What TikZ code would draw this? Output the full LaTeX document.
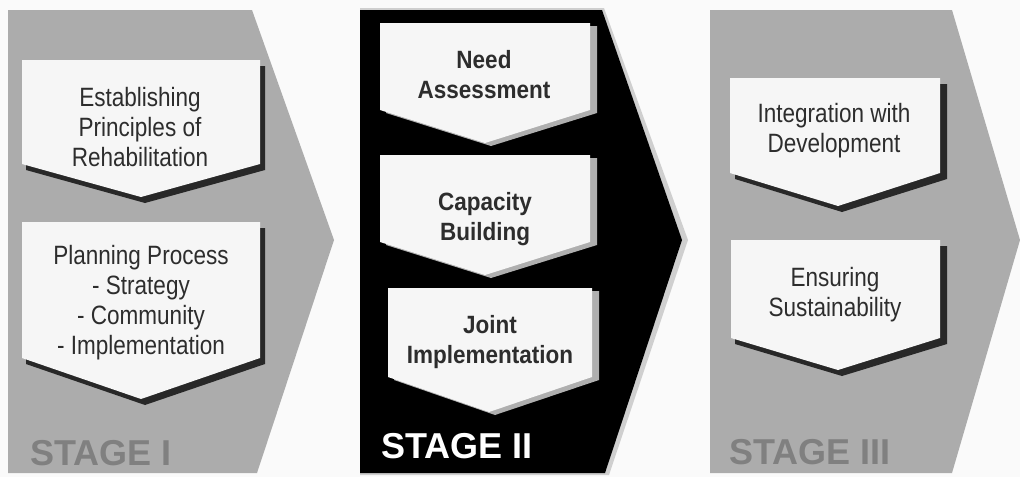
\documentclass[tikz,border=0pt]{standalone}
\usepackage{fontspec}
\setmainfont{Liberation Sans}
\newfontfamily\narrowfont[FakeStretch=0.85]{Liberation Sans}
\newfontfamily\narrowbold[FakeStretch=0.9]{Liberation Sans Bold}
\definecolor{stagegray}{RGB}{172,172,172}
\definecolor{labelgray}{RGB}{128,128,128}
\definecolor{boxwhite}{RGB}{246,246,246}
\definecolor{textdark}{RGB}{45,45,45}
\definecolor{paper}{RGB}{250,250,250}
\definecolor{shadowdark}{RGB}{40,40,40}
\definecolor{shadowlight}{RGB}{175,175,175}
\tikzset{
  boxtext/.style={align=center, anchor=north, inner sep=0pt, text=textdark, font=\narrowfont\fontsize{26.5}{30}\selectfont},
  boldtext/.style={align=center, anchor=north, inner sep=0pt, text=textdark, font=\narrowbold\fontsize{25}{30}\selectfont},
  stagelabel/.style={anchor=base west, inner sep=0pt, font=\bfseries\fontsize{36}{40}\selectfont},
}
\begin{document}
\begin{tikzpicture}[x=1pt,y=-1pt]
\useasboundingbox (0,0) rectangle (1020,477);
\fill[paper] (0,0) rectangle (1020,477);

% ---------- Stage I ----------
\fill[stagegray] (8,10) -- (252,10) -- (334,240) -- (257,473) -- (8,473) -- cycle;
% box 1
\fill[shadowdark] (26,66) -- (265,66) -- (265,170) -- (145,203) -- (26,170) -- cycle;
\fill[boxwhite] (22,60) -- (260,60) -- (260,164) -- (141,197) -- (22,164) -- cycle;
\node[boxtext] (t11) at (140,87) {Establishing\\Principles of\\Rehabilitation};
% box 2
\fill[shadowdark] (26,228) -- (265,228) -- (265,364) -- (145,405) -- (26,364) -- cycle;
\fill[boxwhite] (22,222) -- (260,222) -- (260,358) -- (141,399) -- (22,358) -- cycle;
\node[boxtext] (t12) at (141,245) {Planning Process\\- Strategy\\- Community\\- Implementation};
\node[stagelabel, text=labelgray] (l1) at (30,465) {STAGE I};

% ---------- Stage II ----------
\fill[black!35, opacity=0.5] (360,8) -- (604,8) -- (688,240) -- (609,475) -- (360,475) -- cycle;
\fill[black] (360,10) -- (602,10) -- (682,240) -- (605,473) -- (360,473) -- cycle;
% box 1
\fill[shadowlight] (386,26) -- (597,26) -- (597,113) -- (491,146) -- (386,113) -- cycle;
\fill[boxwhite] (380,23) -- (590,23) -- (590,110) -- (485,143) -- (380,110) -- cycle;
\node[boldtext] (t21) at (484,50) {Need\\Assessment};
% box 2
\fill[shadowlight] (386,158) -- (597,158) -- (597,245) -- (491,278) -- (386,245) -- cycle;
\fill[boxwhite] (380,155) -- (590,155) -- (590,242) -- (485,275) -- (380,242) -- cycle;
\node[boldtext] (t22) at (485,192) {Capacity\\Building};
% box 3
\fill[shadowlight] (394,291) -- (599,291) -- (599,380) -- (495,415) -- (394,380) -- cycle;
\fill[boxwhite] (388,288) -- (592,288) -- (592,377) -- (489,412) -- (388,377) -- cycle;
\node[boldtext] (t23) at (490,315) {Joint\\Implementation};
\node[stagelabel, text=white] (l2) at (381,458) {STAGE II};

% ---------- Stage III ----------
\fill[stagegray] (710,10) -- (952,10) -- (1020,240) -- (952,473) -- (710,473) -- cycle;
% box 1
\fill[shadowdark] (735,84) -- (947,84) -- (947,179) -- (842,212) -- (735,179) -- cycle;
\fill[boxwhite] (730,78) -- (940,78) -- (940,173) -- (838,206) -- (730,173) -- cycle;
\node[boxtext] (t31) at (834,103) {Integration with\\Development};
% box 2
\fill[shadowdark] (735,246) -- (947,246) -- (947,344) -- (842,376) -- (735,344) -- cycle;
\fill[boxwhite] (731,240) -- (940,240) -- (940,338) -- (838,370) -- (731,338) -- cycle;
\node[boxtext] (t32) at (835,267) {Ensuring\\Sustainability};
\node[stagelabel, text=labelgray] (l3) at (729,464) {STAGE III};
\end{tikzpicture}
\end{document}
